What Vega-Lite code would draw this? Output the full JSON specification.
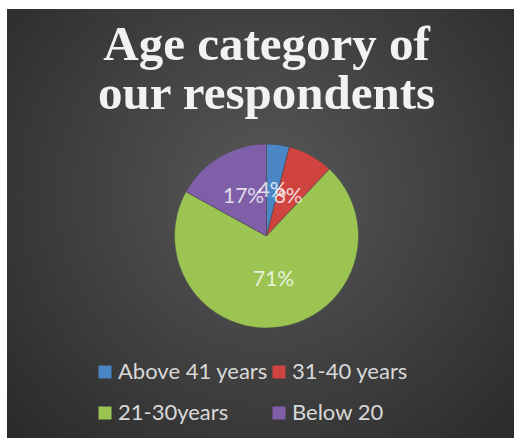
{
  "$schema": "https://vega.github.io/schema/vega-lite/v6.json",
  "width": 514,
  "height": 438,
  "autosize": {"type": "fit", "contains": "padding"},
  "padding": {"left": 7, "top": 9, "right": -12, "bottom": -25},
  "background": "#ffffff",
  "config": {"view": {"stroke": null}},
  "title": {
    "text": ["Age category of", "our respondents"],
    "font": "Liberation Serif",
    "fontWeight": "bold",
    "fontSize": 49,
    "color": "#f2f2f2",
    "lineHeight": 49,
    "anchor": "middle",
    "frame": "group",
    "baseline": "alphabetic",
    "offset": -149
  },
  "layer": [
    {
      "data": {"values": [{"panel": "background"}]},
      "mark": {
        "type": "rect",
        "fill": {
          "gradient": "radial",
          "x1": 0.5, "y1": 0.42, "x2": 0.5, "y2": 0.42, "r1": 0, "r2": 0.75,
          "stops": [
            {"offset": 0, "color": "#585858"},
            {"offset": 1, "color": "#252525"}
          ]
        }
      },
      "encoding": {}
    },
    {
      "data": {
        "values": [
          {"category": "Above 41 years", "share": 0.04},
          {"category": "31-40 years", "share": 0.08},
          {"category": "21-30years", "share": 0.71},
          {"category": "Below 20", "share": 0.17}
        ]
      },
      "transform": [{"window": [{"op": "row_number", "as": "idx"}]}],
      "encoding": {
        "theta": {"field": "share", "type": "quantitative", "stack": true},
        "order": {"field": "idx", "type": "quantitative"}
      },
      "layer": [
        {
          "mark": {"type": "arc", "outerRadius": 92, "stroke": "#444444", "strokeWidth": 0.5},
          "encoding": {
            "color": {
              "field": "category",
              "type": "nominal",
              "scale": {
                "domain": ["Above 41 years", "31-40 years", "21-30years", "Below 20"],
                "range": ["#4a86c6", "#cf4440", "#9cc452", "#7f5fa8"]
              },
              "legend": {
                "orient": "none",
                "legendX": 87,
                "legendY": 352,
                "direction": "horizontal",
                "columns": 2,
                "title": null,
                "padding": 0,
                "symbolType": "square",
                "symbolSize": 169,
                "symbolStrokeWidth": 0,
                "labelFont": "Lato",
                "labelFontSize": 22,
                "labelColor": "#d9d9d9",
                "labelOffset": 2,
                "labelLimit": 300,
                "rowPadding": 19,
                "columnPadding": 0
              }
            }
          }
        },
        {
          "mark": {"type": "text", "radius": 45, "font": "Lato", "fontSize": 21, "fill": "#ffffff", "opacity": 0.78},
          "encoding": {
            "detail": {"field": "category", "type": "nominal"},
            "text": {"field": "share", "type": "quantitative", "format": ".0%"}
          }
        }
      ]
    }
  ]
}
